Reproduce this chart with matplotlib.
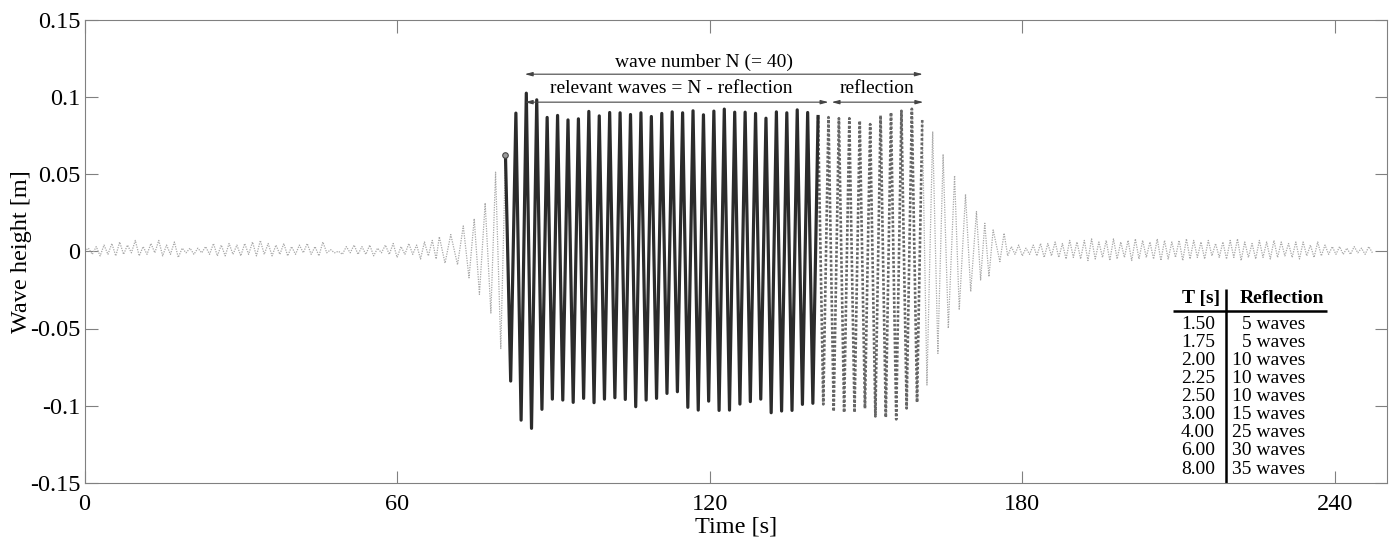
import matplotlib
matplotlib.use('Agg')
import matplotlib.pyplot as plt
import numpy as np

plt.rcParams['font.family'] = ['Liberation Serif', 'DejaVu Serif']
plt.rcParams['axes.unicode_minus'] = False

# ---- data (extrema of the wave record) ----
# calm record before the wave train: extrema every 0.75 s from t = 0
pre_t0, pre_dt = 0.0, 0.75
pre_vals = [0.000, 0.002, -0.002, 0.003, -0.003, 0.004, -0.002, 0.005, -0.003, 0.006,
            -0.002, 0.004, -0.001, 0.007, -0.003, 0.003, -0.002, 0.005, -0.001, 0.007,
            -0.003, 0.004, -0.002, 0.006, -0.004, 0.002, -0.001, 0.002, -0.002, 0.002,
            -0.001, 0.003, -0.002, 0.005, -0.003, 0.004, -0.003, 0.005, -0.002, 0.004,
            -0.003, 0.005, -0.002, 0.006, -0.003, 0.007, -0.002, 0.005, -0.003, 0.004,
            -0.002, 0.005, -0.003, 0.003, -0.002, 0.004, -0.001, 0.005, -0.002, 0.003,
            -0.003, 0.006, -0.001, 0.001, -0.001, 0.000, -0.002, 0.003, -0.001, 0.004,
            -0.002, 0.003, -0.002, 0.004, -0.003, 0.002, -0.001, 0.004, -0.002, 0.005,
            -0.004, 0.003, -0.002, 0.005, -0.002, 0.004, -0.005, 0.006, -0.003, 0.007,
            -0.005]

# growing waves in front of the train
growth_t = [68.1, 69.2, 70.3, 71.6, 72.7, 73.8, 74.8, 75.8, 76.9, 78.0, 78.9, 79.9]
growth_v = [0.0094, -0.0077, 0.0108, -0.0087, 0.0164, -0.0172, 0.0211, -0.0279,
            0.0313, -0.0400, 0.0512, -0.0630]

# relevant waves (black), extrema every 1.0 s (T = 2.0 s)
main_t0, main_dt = 80.8, 1.0
main_start = 0.062
main_troughs = [-0.0840, -0.1093, -0.1146, -0.1023, -0.0957, -0.0963, -0.0978, -0.0952,
                -0.0980, -0.0957, -0.0948, -0.0959, -0.1006, -0.0963, -0.0952, -0.0920,
                -0.0909, -0.1010, -0.1028, -0.0970, -0.1030, -0.1028, -0.0989, -0.0973,
                -0.0957, -0.1045, -0.1034, -0.1030, -0.0991, -0.0984]
main_crests = [0.0894, 0.1023, 0.0980, 0.0866, 0.0879, 0.0850, 0.0857, 0.0905,
               0.0876, 0.0898, 0.0896, 0.0885, 0.0896, 0.0872, 0.0892, 0.0902,
               0.0896, 0.0909, 0.0883, 0.0907, 0.0920, 0.0900, 0.0900, 0.0892,
               0.0861, 0.0902, 0.0896, 0.0915, 0.0898, 0.0872]

# reflection part (dark dotted)
refl_troughs = [-0.0991, -0.1036, -0.1043, -0.1043, -0.1017, -0.1069, -0.1075, -0.1088,
                -0.1017, -0.0978]
refl_crests = [0.0868, 0.0861, 0.0861, 0.0844, 0.0823, 0.0879, 0.0898, 0.0909,
               0.0922, 0.0850]

# decaying tail after the train
decay_t = [161.7, 162.8, 163.8, 164.8, 165.8, 167.0, 167.9, 169.1, 170.1, 171.2,
           172.0, 172.8, 173.6, 174.4, 175.7, 176.5]
decay_v = [-0.0866, 0.0775, -0.0661, 0.0628, -0.0499, 0.0490, -0.0380, 0.0369,
           -0.0261, 0.0257, -0.0186, 0.0181, -0.0164, 0.0138, -0.0067, 0.0117]

# calm record after the train: extrema every 0.7 s
post_t0, post_dt = 177.2, 0.7
post_vals = [-0.003, 0.003, -0.002, 0.004, -0.003, 0.002, -0.002, 0.004, -0.003, 0.005,
             -0.004, 0.005, -0.003, 0.006, -0.004, 0.005, -0.005, 0.007, -0.004, 0.006,
             -0.005, 0.007, -0.006, 0.008, -0.005, 0.006, -0.004, 0.007, -0.006, 0.008,
             -0.005, 0.006, -0.004, 0.007, -0.006, 0.008, -0.005, 0.007, -0.004, 0.006,
             -0.005, 0.008, -0.006, 0.007, -0.005, 0.006, -0.004, 0.007, -0.006, 0.008,
             -0.005, 0.007, -0.004, 0.006, -0.005, 0.007, -0.003, 0.005, -0.004, 0.006,
             -0.005, 0.007, -0.004, 0.008, -0.006, 0.006, -0.004, 0.005, -0.005, 0.007,
             -0.004, 0.006, -0.005, 0.007, -0.004, 0.006, -0.003, 0.005, -0.004, 0.006,
             -0.005, 0.006, -0.003, 0.004, -0.004, 0.006, -0.003, 0.004, -0.002, 0.003,
             -0.002, 0.003, -0.002, 0.002, -0.002, 0.003, -0.001, 0.002, -0.002, 0.003,
             -0.001]

# annotation spans (s)
wave_span = (84.5, 160.9)
relevant_span = (84.5, 142.8)
refl_span = (143.4, 161.0)

# reflection table
table_T = ['1.50', '1.75', '2.00', '2.25', '2.50', '3.00', '4.00', '6.00', '8.00']
table_refl = ['5 waves', '5 waves', '10 waves', '10 waves', '10 waves',
              '15 waves', '25 waves', '30 waves', '35 waves']

xticks = [0, 60, 120, 180, 240]
yticks = [-0.15, -0.1, -0.05, 0, 0.05, 0.1, 0.15]
ytick_labels = ['-0.15', '-0.1', '-0.05', '0', '0.05', '0.1', '0.15']

# ---- build series ----
pre_t = pre_t0 + pre_dt * np.arange(len(pre_vals))

main_v = [main_start]
for tr, cr in zip(main_troughs, main_crests):
    main_v += [tr, cr]
main_t = main_t0 + main_dt * np.arange(len(main_v))

refl_v = [main_crests[-1]]
for tr, cr in zip(refl_troughs, refl_crests):
    refl_v += [tr, cr]
refl_t = main_t[-1] + main_dt * np.arange(len(refl_v))

post_t = post_t0 + post_dt * np.arange(len(post_vals))

lead_t = np.concatenate([pre_t, growth_t, [main_t0]])
lead_v = np.concatenate([pre_vals, growth_v, [main_start]])
tail_t = np.concatenate([[refl_t[-1]], decay_t, post_t])
tail_v = np.concatenate([[refl_v[-1]], decay_v, post_vals])

# ---- plot ----
fig = plt.figure(figsize=(13.92, 5.4), dpi=100)
ax = fig.add_axes([84.5 / 1392, 57 / 540, 1302.5 / 1392, 463.5 / 540])

light = '#a8a8a8'
ax.plot(lead_t, lead_v, color=light, lw=0.9, ls=(0, (1, 1)))
ax.plot(tail_t, tail_v, color=light, lw=0.9, ls=(0, (1, 1)))
ax.plot(refl_t, refl_v, color='#666666', lw=1.9, ls=(0, (1, 0.7)))
ax.plot(main_t, main_v, color='#2b2b2b', lw=2.3, solid_joinstyle='round')
ax.plot(main_t[0], main_v[0], 'o', ms=4, mfc='#9a9a9a', mec='#444444', mew=0.8)

# arrows + labels
arr = dict(arrowstyle='<|-|>,head_length=0.45,head_width=0.12', color='#444444',
           lw=0.8, shrinkA=0, shrinkB=0)
ax.annotate('', xy=(wave_span[1], 0.1146), xytext=(wave_span[0], 0.1146), arrowprops=arr)
ax.annotate('', xy=(relevant_span[1], 0.0965), xytext=(relevant_span[0], 0.0965), arrowprops=arr)
ax.annotate('', xy=(refl_span[1], 0.0965), xytext=(refl_span[0], 0.0965), arrowprops=arr)
ax.text(119.0, 0.1165, 'wave number N (= 40)', ha='center', va='bottom', fontsize=14)
ax.text(112.6, 0.1000, 'relevant waves = N - reflection', ha='center',
        va='bottom', fontsize=14)
ax.text(152.1, 0.1000, 'reflection', ha='center', va='bottom', fontsize=14)

# reflection table
ax.text(214.4, -0.0304, 'T [s]', ha='center', va='center', fontsize=14, fontweight='bold')
ax.text(229.8, -0.0304, 'Reflection', ha='center', va='center', fontsize=14, fontweight='bold')
ax.plot([208.9, 238.5], [-0.0384, -0.0384], color='black', lw=1.8, solid_capstyle='butt')
ax.plot([219.1, 219.1], [-0.0244, -0.15], color='black', lw=1.8, solid_capstyle='butt')
row_y = np.linspace(-0.0471, -0.1410, len(table_T))
for y, tp, rf in zip(row_y, table_T, table_refl):
    ax.text(217.0, y, tp, ha='right', va='center', fontsize=14)
    ax.text(234.3, y, rf, ha='right', va='center', fontsize=14)

ax.set_xlim(0, 250)
ax.set_ylim(-0.15, 0.15)
ax.set_xticks(xticks)
ax.set_xticklabels([str(v) for v in xticks])
ax.set_yticks(yticks)
ax.set_yticklabels(ytick_labels)
ax.tick_params(direction='in', length=9, width=0.8, color='#808080', top=True, right=True,
               labelsize=17.5)
ax.tick_params(axis='x', pad=8)
ax.tick_params(axis='y', pad=3)
for s in ax.spines.values():
    s.set_color('#808080')
    s.set_linewidth(0.8)
ax.set_xlabel('Time [s]', fontsize=17.5, labelpad=1)
ax.set_ylabel('Wave height [m]', fontsize=17.5)
ax.yaxis.set_label_coords(-0.040, 0.5)

fig.savefig('out.png', dpi=100)
